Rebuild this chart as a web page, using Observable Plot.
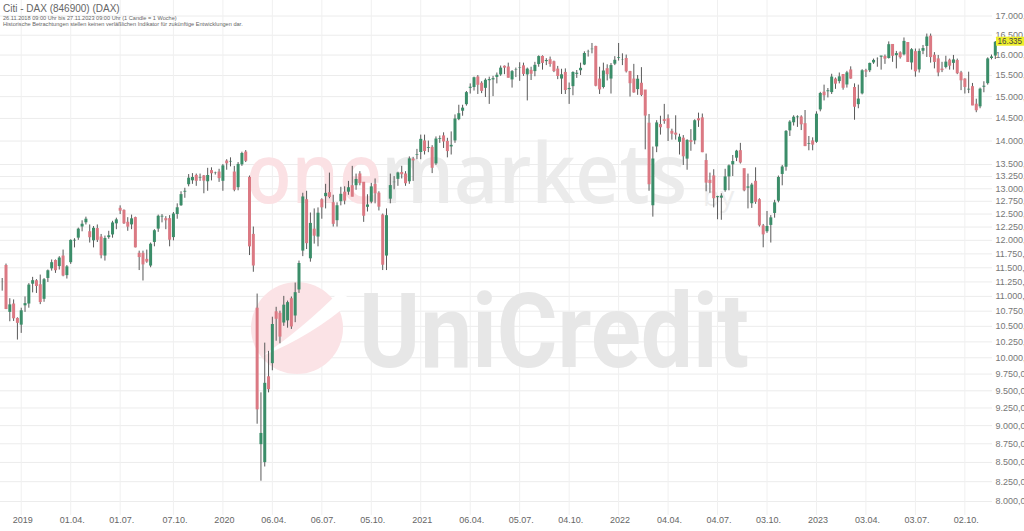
<!DOCTYPE html>
<html>
<head>
<meta charset="utf-8">
<script src="https://cdn.jsdelivr.net/npm/d3@7"></script>
<script src="https://cdn.jsdelivr.net/npm/@observablehq/plot@0.6"></script>
<style>
  html, body { margin: 0; padding: 0; background: #fff; }
  #chart { width: 1024px; height: 531px; overflow: hidden; }
</style>
</head>
<body>
<div id="chart"></div>
<script>
// ---- Data (weekly candles, first week 26.11.2018) ----
const firstWeek = "2018-11-26";
const open = [
11235,11530,10720,10860,10620,10510,10830,10860,11200,11260,
11190,10940,11300,11470,11620,11510,11700,11350,11580,11990,
12030,12240,12320,12150,11980,12210,12050,11700,12040,12090,
12300,12600,12560,12330,12280,12420,11750,11750,11640,11520,
11950,12200,12430,12400,12400,12040,12480,12650,12920,13070,
13150,13260,13200,13250,13130,13360,13320,13330,13140,13560,
13540,13330,13010,13480,13750,13220,12100,10790,8730,8490,
9700,9900,10730,10705,10545,10580,10950,10660,11100,11790,
12770,11650,12200,12050,12770,12830,12910,12710,12360,12730,
12920,12920,13050,13050,13290,13120,12620,12720,13080,12900,
12470,11700,12780,13120,13180,13320,13290,13130,13600,13680,
13740,13990,13830,13850,13500,14040,14100,13980,13860,13990,
14460,14650,14800,15180,15200,15450,15300,15180,15360,15380,
15440,15500,15710,15690,15380,15630,15670,15720,15500,15610,
15580,15750,15950,15850,15870,15820,15640,15400,15560,15150,
15220,15540,15600,15740,16070,16120,16200,15400,15200,15650,
15400,15760,15900,15860,15900,15580,15400,15150,15300,15140,
14380,12650,13860,14350,14460,14480,14200,14160,13960,14050,
13600,14000,13990,14480,14500,13570,13160,13250,12830,12800,
12950,13230,13480,13620,13780,13400,13000,12690,13140,12770,
12260,12150,12270,12500,12740,13280,13430,14210,14390,14520,
14520,14370,13930,13990,13960,14680,15090,15100,15080,15400,
15340,15510,15260,15620,15200,14800,15050,15600,15600,15790,
15890,15960,15950,15900,16250,15970,16040,15990,16300,15790,
16070,15620,16080,16200,16460,15980,15890,15640,15680,15860,
15780,15850,15550,15400,15140,15220,14810,14750,15230,15290,
15900,15960
];
const high = [
11310,11566,10960,10940,10640,10800,10990,11220,11330,11290,
11370,11310,11460,11640,11640,11700,11820,11540,12010,12030,
12230,12370,12440,12290,12260,12290,12110,12080,12170,12360,
12420,12660,12580,12430,12480,12440,11800,11800,11820,11950,
12200,12480,12490,12450,12470,12530,12700,12940,13010,13290,
13310,13300,13300,13270,13420,13430,13340,13400,13500,13600,
13640,13460,13540,13760,13795,13260,12250,11040,9470,10230,
10100,10650,10815,10750,11000,10920,10990,11230,11620,12910,
12950,12520,12600,12620,12800,13090,13320,12870,12720,13030,
13040,13150,13460,13300,13350,13120,12880,13110,13200,12940,
12500,12600,13300,13250,13340,13460,13350,13660,13650,13820,
14130,14130,14000,13900,14090,14110,14180,14060,14200,14580,
14800,14800,15120,15300,15460,15500,15350,15420,15460,15480,
15560,15730,15730,15800,15620,15680,15810,15800,15680,15700,
15820,15980,15980,15910,15950,15850,15720,15650,15660,15320,
15590,15620,15800,16080,16120,16290,16220,15700,15800,15760,
15790,15960,16290,16030,16000,15600,15770,15500,15690,15140,
14590,13870,14450,14550,14820,14580,14260,14560,14150,14120,
14030,14250,14470,14620,14600,13720,13320,13390,12850,12900,
13400,13490,13690,13800,13950,13400,13300,13110,13430,12800,
12300,12550,12470,12770,13260,13480,14230,14450,14560,14560,
14560,14680,14100,14070,14650,15100,15270,15190,15530,15440,
15560,15520,15600,15710,15300,15270,15640,15650,15800,15900,
15930,15970,16000,16330,16260,16090,16080,16430,16300,16160,
16150,16150,16240,16530,16530,16060,15990,15820,15970,15900,
15990,15900,15600,15420,15580,15310,14940,15200,15350,15930,
16000,16340
];
const low = [
11090,10776,10575,10580,10279,10386,10730,10800,11060,11050,
10860,10900,11240,11440,11400,11460,11340,11300,11560,11860,
12000,12160,12290,11950,11860,11960,11660,11620,12020,12040,
12200,12490,12300,12170,12200,11860,11450,11266,11580,11500,
11880,12150,12330,12200,11880,11990,12400,12650,12810,13040,
13090,13050,13150,12900,12950,13160,13280,13130,12950,13380,
13450,12940,12960,13460,13540,11720,11420,9020,8256,8440,
9470,9800,10260,10220,10500,10470,10450,10560,11050,11700,
11830,11600,11930,11880,12400,12600,12800,12250,12250,12660,
12680,12870,12840,12970,13060,12340,12540,12700,12700,12560,
11450,11450,12700,12980,13050,13200,13050,13090,13150,13600,
13600,13700,13750,13310,13480,13950,13840,13640,13700,13950,
14450,14550,14780,15060,15130,15050,15070,14980,14820,15000,
15300,15480,15520,15440,15200,15450,15360,15480,14900,15380,
15470,15700,15630,15740,15700,15570,15400,15050,15050,14820,
15020,15430,15500,15740,15950,16030,15230,15050,15180,15370,
15060,15740,15850,15740,15560,14990,15080,15030,15000,13810,
12950,12440,13750,14130,14370,13990,14020,14020,13700,13480,
13380,13780,13920,14300,13750,12940,12910,12620,12390,12380,
12930,12960,13250,13560,13510,12940,12600,12610,12690,12250,
11862,12130,11950,12420,12720,13060,13360,14100,14330,14300,
14230,13880,13790,13790,13950,14650,14900,14970,15050,15170,
15300,15150,15200,15410,14460,14720,15040,15450,15570,15770,
15700,15630,15770,15900,15820,15660,15900,15980,15830,15630,
15460,15560,16010,15940,15800,15660,15470,15570,15660,15630,
15630,15520,15140,15060,15070,14790,14630,14720,15090,15270,
15880,15890
];
const close = [
11257,10788,10866,10634,10559,10767,10887,11205,11282,11181,
10906,11299,11457,11602,11458,11686,11364,11526,12010,11999,
12222,12315,12412,12060,12238,12011,11727,12045,12096,12340,
12399,12568,12323,12260,12419,11872,11694,11562,11612,11939,
12192,12469,12468,12381,12013,12512,12634,12895,12961,13228,
13242,13164,13236,13167,13283,13319,13337,13219,13483,13526,
13577,12982,13514,13745,13579,11890,11542,9232,8900,9620,
9525,10540,10626,10336,10861,10904,10500,11074,11587,12848,
11949,12331,12089,12528,12633,12920,12838,12313,12674,12901,
12765,13033,12843,13202,13116,12469,12689,13051,12909,12646,
11556,12480,13077,13137,13336,13299,13114,13631,13587,13719,
14050,13788,13874,13433,14057,14050,13993,13786,13920,14502,
14621,14748,15107,15234,15460,15280,15136,15400,15417,15438,
15520,15693,15693,15448,15608,15650,15688,15540,15669,15544,
15761,15977,15808,15852,15781,15609,15490,15531,15156,15206,
15587,15543,15688,16054,16094,16160,15257,15170,15623,15532,
15756,15885,15948,15883,15603,15318,15100,15425,15042,14567,
13094,13628,14413,14306,14446,14284,14163,14142,14098,13675,
14027,13982,14462,14460,13762,13127,13118,12813,12834,12865,
13254,13484,13574,13795,13544,12971,13050,13088,12741,12284,
12114,12273,12438,12731,13243,13460,14225,14432,14541,14529,
14371,13893,13941,13924,14610,15087,15033,15150,15476,15307,
15482,15210,15578,15428,14768,14957,15629,15598,15808,15882,
15922,15961,15914,16275,15984,16051,15950,16358,15830,16148,
15603,16106,16177,16469,15952,15832,15575,15632,15840,15741,
15894,15557,15387,15229,15187,14798,14688,15189,15234,15919,
15967,16335
];
const yTicks = [8000,8250,8500,8750,9000,9250,9500,9750,10000,10250,10500,10750,11000,11250,11500,11750,12000,12250,12500,12750,13000,13250,13500,14000,14500,15000,15500,16000,16500,17000];
const xTickDates = ["2018-12-31","2019-04-01","2019-07-01","2019-10-07","2020-01-06","2020-04-06","2020-07-06","2020-10-05","2021-01-04","2021-04-05","2021-07-05","2021-10-04","2022-01-03","2022-04-04","2022-07-04","2022-10-03","2023-01-02","2023-04-03","2023-07-03","2023-10-02"];
const xTickLabels = ["2019","01.04.","01.07.","07.10.","2020","06.04.","06.07.","05.10.","2021","06.04.","05.07.","04.10.","2022","04.04.","04.07.","03.10.","2023","03.04.","03.07.","02.10."];
const titleText = "Citi - DAX (846900) (DAX)";
const subtitleLines = [
  "26.11.2018 09:00 Uhr bis 27.11.2023 09:00 Uhr (1 Candle = 1 Woche)",
  "Historische Betrachtungen stellen keinen verläßlichen Indikator für zukünftige Entwicklungen dar."
];

// ---- Build table ----
const start = new Date(firstWeek);
const weeks = d3.utcMonday.range(start, d3.utcMonday.offset(start, close.length));
const rows = close.map((c, i) => ({date: weeks[i], open: open[i], high: high[i], low: low[i], close: c}));
const upRows = rows.filter(d => d.close >= d.open);
const downRows = rows.filter(d => d.close < d.open);
const tickDates = xTickDates.map(s => new Date(s));
const de = d3.formatLocale({decimal: ",", thousands: ".", grouping: [3], currency: ["", " €"]});
const fmtAxis = de.format(",.1f");
const fmtLast = de.format(",.0f");
const lastClose = close[close.length - 1];

const UP = "#3b8d69", DOWN = "#db7983", WICK = "#595959";

function watermark() {
  const g = d3.create("svg:g").attr("pointer-events", "none").attr("text-anchor", "start");
  g.append("text").attr("x", 246).attr("y", 203).attr("font-family", "Open Sans, sans-serif")
    .attr("font-weight", 600).attr("font-size", 84).attr("fill", "#fbe1e4")
    .attr("textLength", 136).attr("lengthAdjust", "spacingAndGlyphs").text("one");
  g.append("text").attr("x", 381).attr("y", 203).attr("font-family", "Open Sans, sans-serif")
    .attr("font-weight", 600).attr("font-size", 84).attr("fill", "#ebebeb")
    .attr("textLength", 306).attr("lengthAdjust", "spacingAndGlyphs").text("markets");
  g.append("text").attr("x", 703).attr("y", 206).attr("font-family", "Open Sans, sans-serif")
    .attr("font-weight", 400).attr("font-size", 28).attr("fill", "#eeeeee").text("by");
  g.append("circle").attr("cx", 297).attr("cy", 328).attr("r", 46).attr("fill", "#fbe3e6");
  g.append("path").attr("d", "M262,356 Q300,331 340,291 L352,301 Q312,336 262,356 Z").attr("fill", "#ffffff");
  g.append("text").attr("x", 359).attr("y", 367).attr("font-family", "Roboto, sans-serif")
    .attr("font-weight", 700).attr("font-size", 104).attr("fill", "#e7e7e7")
    .attr("textLength", 390).attr("lengthAdjust", "spacingAndGlyphs").text("UniCredit");
  return g.node();
}

function titles() {
  const g = d3.create("svg:g").attr("font-family", "Liberation Sans, Arial, sans-serif").attr("text-anchor", "start");
  g.append("text").attr("x", 3).attr("y", 12).attr("font-size", 10).attr("fill", "#666").text(titleText);
  subtitleLines.forEach((t, i) => {
    g.append("text").attr("x", 3).attr("y", 19.5 + i * 6).attr("font-size", 5.6).attr("fill", "#666").text(t);
  });
  return g.node();
}

function priceTag(index, scales, values, dimensions) {
  const y = scales.y(lastClose);
  const x0 = dimensions.width - dimensions.marginRight + 4;
  const g = d3.create("svg:g").attr("text-anchor", "start");
  g.append("rect").attr("x", x0).attr("y", y - 4.5).attr("width", 28).attr("height", 9).attr("fill", "#eeee2a");
  g.append("text").attr("x", x0 + 1.5).attr("y", y).attr("dy", "0.35em").attr("font-size", 8.6)
    .attr("textLength", 24.5).attr("lengthAdjust", "spacingAndGlyphs")
    .attr("fill", "#444").text(fmtLast(lastClose));
  return g.node();
}

const chart = Plot.plot({
  width: 1024,
  height: 531,
  marginLeft: 0,
  marginRight: 32,
  marginTop: 0,
  marginBottom: 16,
  style: {fontFamily: "Liberation Sans, Arial, sans-serif", fontSize: "9px", background: "#fff", overflow: "hidden"},
  x: {type: "utc", domain: [weeks[0], weeks[weeks.length - 1]], range: [1.7, 994.8], axis: null},
  y: {type: "log", domain: [8000, 17000], range: [501, 15.5], axis: null},
  marks: [
    Plot.ruleY(yTicks, {y: d => d, stroke: "#ececec", strokeWidth: 1}),
    Plot.ruleX(tickDates, {x: d => d, stroke: "#f0f0f0", strokeWidth: 1}),
    watermark,
    Plot.ruleX(rows, {x: "date", y1: "low", y2: "high", stroke: WICK, strokeWidth: 1}),
    Plot.ruleX(upRows, {x: "date", y1: "open", y2: "close", stroke: UP, strokeWidth: 3, insetTop: -0.6, insetBottom: -0.6}),
    Plot.ruleX(downRows, {x: "date", y1: "open", y2: "close", stroke: DOWN, strokeWidth: 3, insetTop: -0.6, insetBottom: -0.6}),
    Plot.text(yTicks, {y: d => d, text: d => fmtAxis(d), frameAnchor: "right", textAnchor: "start", dx: 3, fill: "#777", fontSize: 9}),
    Plot.text(tickDates, {x: d => d, text: xTickLabels, frameAnchor: "bottom", dy: 7, dx: 1.5, fill: "#666", fontSize: 9}),
    priceTag,
    titles
  ]
});
document.getElementById("chart").appendChild(chart);
</script>
</body>
</html>
